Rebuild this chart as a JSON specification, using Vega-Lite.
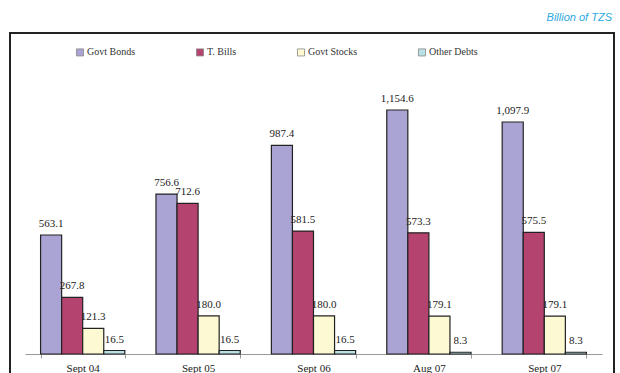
{
  "$schema": "https://vega.github.io/schema/vega-lite/v6.json",
  "width": 604,
  "height": 360,
  "autosize": "none",
  "padding": {"left": 10, "top": 33, "right": 6, "bottom": 0},
  "background": "white",
  "title": {
    "text": "Billion of TZS",
    "anchor": "end",
    "frame": "group",
    "orient": "top",
    "offset": 10,
    "font": "Liberation Sans",
    "fontSize": 11,
    "fontStyle": "italic",
    "fontWeight": "normal",
    "color": "#2ba8e0",
    "dx": -2
  },
  "config": {
    "view": {"stroke": "#222", "strokeWidth": 2},
    "text": {"font": "Liberation Serif"}
  },
  "data": {
    "values": [
      {"period": "Sept 04", "type": "Govt Bonds", "value": 563.1},
      {"period": "Sept 04", "type": "T. Bills", "value": 267.8},
      {"period": "Sept 04", "type": "Govt Stocks", "value": 121.3},
      {"period": "Sept 04", "type": "Other Debts", "value": 16.5},
      {"period": "Sept 05", "type": "Govt Bonds", "value": 756.6},
      {"period": "Sept 05", "type": "T. Bills", "value": 712.6},
      {"period": "Sept 05", "type": "Govt Stocks", "value": 180.0},
      {"period": "Sept 05", "type": "Other Debts", "value": 16.5},
      {"period": "Sept 06", "type": "Govt Bonds", "value": 987.4},
      {"period": "Sept 06", "type": "T. Bills", "value": 581.5},
      {"period": "Sept 06", "type": "Govt Stocks", "value": 180.0},
      {"period": "Sept 06", "type": "Other Debts", "value": 16.5},
      {"period": "Aug 07", "type": "Govt Bonds", "value": 1154.6},
      {"period": "Aug 07", "type": "T. Bills", "value": 573.3},
      {"period": "Aug 07", "type": "Govt Stocks", "value": 179.1},
      {"period": "Aug 07", "type": "Other Debts", "value": 8.3},
      {"period": "Sept 07", "type": "Govt Bonds", "value": 1097.9},
      {"period": "Sept 07", "type": "T. Bills", "value": 575.5},
      {"period": "Sept 07", "type": "Govt Stocks", "value": 179.1},
      {"period": "Sept 07", "type": "Other Debts", "value": 8.3}
    ]
  },
  "encoding": {
    "x": {
      "field": "period",
      "type": "nominal",
      "sort": ["Sept 04", "Sept 05", "Sept 06", "Aug 07", "Sept 07"],
      "scale": {"range": [15, 592], "paddingInner": 0.27, "paddingOuter": 0.135},
      "axis": {
        "title": null,
        "orient": "bottom",
        "offset": -39,
        "labelAngle": 0,
        "tickBand": "extent",
        "domainColor": "#999",
        "tickColor": "#999",
        "tickSize": 4,
        "labelFont": "Liberation Serif",
        "labelFontSize": 11,
        "labelColor": "#222",
        "labelPadding": 4
      }
    },
    "xOffset": {
      "field": "type",
      "type": "nominal",
      "sort": ["Govt Bonds", "T. Bills", "Govt Stocks", "Other Debts"],
      "scale": {"paddingInner": 0, "paddingOuter": 0}
    },
    "y": {
      "field": "value",
      "type": "quantitative",
      "scale": {"domain": [0, 1200], "range": [321, 67.4], "zero": true},
      "axis": null
    }
  },
  "layer": [
    {
      "mark": {"type": "bar", "stroke": "#222", "strokeWidth": 1.2, "clip": false},
      "encoding": {
        "color": {
          "field": "type",
          "type": "nominal",
          "sort": ["Govt Bonds", "T. Bills", "Govt Stocks", "Other Debts"],
          "scale": {
            "domain": ["Govt Bonds", "T. Bills", "Govt Stocks", "Other Debts"],
            "range": ["#aaa4d4", "#b5436f", "#fdf9d2", "#b9e0e4"]
          },
          "legend": {
            "title": null,
            "orient": "none",
            "direction": "horizontal",
            "legendX": 65,
            "legendY": 14,
            "symbolType": "square",
            "symbolSize": 50,
            "symbolStrokeColor": "#888",
            "symbolStrokeWidth": 0.8,
            "labelFont": "Liberation Serif",
            "labelFontSize": 10,
            "labelColor": "#333",
            "columnPadding": 58,
            "labelOffset": 2
          }
        }
      }
    },
    {
      "mark": {"type": "text", "baseline": "bottom", "dy": -6, "fontSize": 11, "color": "#222"},
      "encoding": {
        "text": {"field": "value", "type": "quantitative", "format": ",.1f"}
      }
    }
  ]
}
